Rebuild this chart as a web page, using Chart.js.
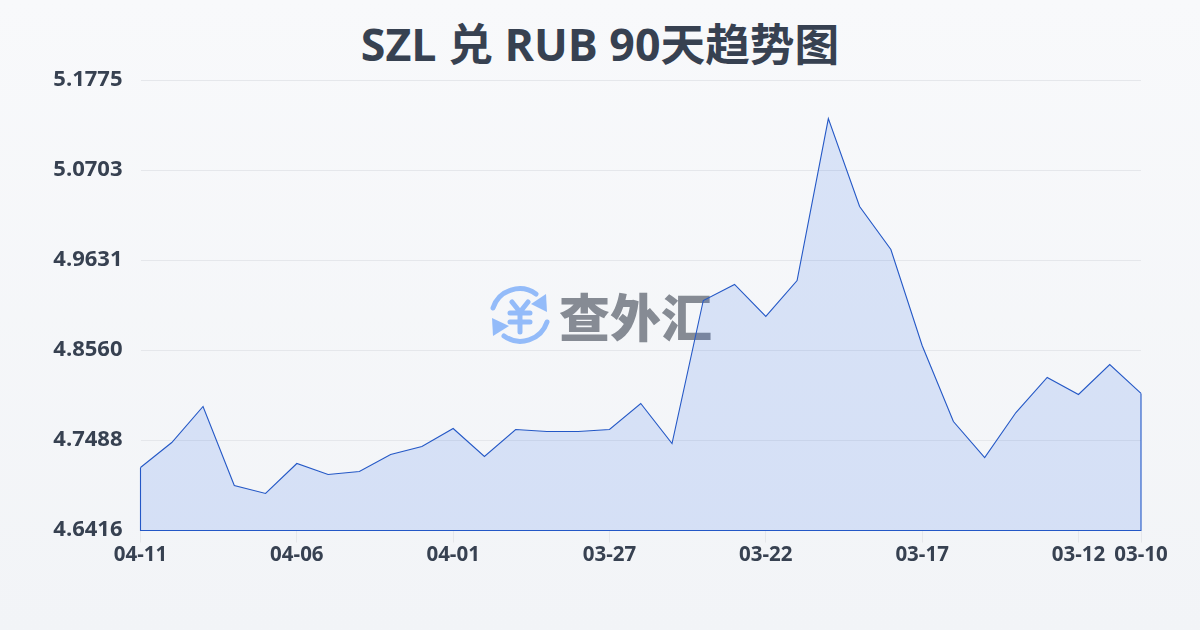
<!DOCTYPE html>
<html lang="zh"><head><meta charset="utf-8">
<script src="https://cdn.jsdelivr.net/npm/chart.js@4/dist/chart.umd.min.js"></script>
<style>
html,body{margin:0;padding:0}
body{width:1200px;height:630px;overflow:hidden;position:relative;background:linear-gradient(180deg,#f8f9fb 0%,#f2f4f7 100%);font-family:"Open Sans","Noto Sans CJK SC",sans-serif}
#wm{position:absolute;left:488px;top:284px;width:64px;height:62px}
#wt{position:absolute;left:559px;top:276px;font:900 51px/78px "Noto Sans CJK SC",sans-serif;color:#868b94;white-space:nowrap}
#title{position:absolute;left:0;top:14px;width:1200px;text-align:center;font:700 44.7px/60px "Open Sans","Noto Sans CJK SC",sans-serif;color:#374151}
canvas{position:absolute;left:0;top:0}
</style></head><body>
<svg id="wm" viewBox="0 0 64 62" fill="none" stroke="#93bbf9" stroke-linecap="round" stroke-linejoin="round">
<path d="M5 24 A28 28 0 0 1 48 10" stroke-width="5"/>
<path d="M58 10 L59 28 L43 20 Z" fill="#93bbf9" stroke="none"/>
<path d="M59 38 A28 28 0 0 1 16 52" stroke-width="5"/>
<path d="M5 52 L4 34 L21 42 Z" fill="#93bbf9" stroke="none"/>
<path d="M24 18 L32 28 L40 18 M22 29 H42 M22 38 H42 M32 28 V48" stroke-width="5"/>
</svg>
<div id="wt">查外汇</div>
<div id="title">SZL 兑 RUB 90天趋势图</div>
<canvas id="c" width="1200" height="630"></canvas>
<script>
const dates=["04-11","04-10","04-09","04-08","04-07","04-06","04-05","04-04","04-03","04-02","04-01","03-31","03-30","03-29","03-28","03-27","03-26","03-25","03-24","03-23","03-22","03-21","03-20","03-19","03-18","03-17","03-16","03-15","03-14","03-13","03-12","03-11","03-10"];
const rates=[4.7166,4.7464,4.7893,4.6952,4.6857,4.7214,4.7083,4.7119,4.7321,4.7416,4.7631,4.7297,4.7619,4.7595,4.7595,4.7619,4.7928,4.7452,4.9155,4.9346,4.8965,4.9393,5.1322,5.0274,4.9762,4.8619,4.7714,4.7285,4.7821,4.8238,4.8036,4.8393,4.8048];
const yTicks=[4.6416,4.7488,4.8560,4.9631,5.0703,5.1775];
const xTickIndex=[0,5,10,15,20,25,30,32];
const last=dates.length-1, yMin=yTicks[0], yMax=yTicks[yTicks.length-1];
const ink="#374151", line="#2458c6", fam='"Open Sans",sans-serif';
new Chart(document.getElementById("c"),{
 type:"line",
 data:{datasets:[
  {data:rates.map((y,x)=>({x,y})),borderColor:line,borderWidth:1.1,backgroundColor:"rgba(37,99,235,0.14)",fill:"start",pointRadius:0,tension:0,clip:false},
  {data:[{x:0,y:rates[0]},{x:0,y:yMin},{x:last,y:yMin},{x:last,y:rates[last]}],borderColor:line,borderWidth:1.1,fill:false,pointRadius:0,tension:0,clip:false}
 ]},
 options:{responsive:false,animation:false,
  layout:{padding:{left:0,right:59,top:80.5,bottom:0}},
  plugins:{legend:{display:false},tooltip:{enabled:false},title:{display:false}},
  scales:{
   x:{type:"linear",min:0,max:last,
    afterBuildTicks(s){s.ticks=xTickIndex.map(value=>({value}));},
    afterFit(s){s.height=99.5;},
    border:{display:false},
    grid:{drawOnChartArea:false,drawTicks:true,tickLength:12,color:"#e5e7eb"},
    ticks:{autoSkip:false,maxRotation:0,minRotation:0,padding:0,color:ink,font:{family:fam,size:20.5,weight:"700"},callback:v=>dates[v]}},
   y:{type:"linear",min:yMin,max:yMax,
    afterBuildTicks(s){s.ticks=yTicks.map(value=>({value}));},
    afterFit(s){s.width=140.5;},
    border:{display:false},
    grid:{drawTicks:false,color:"#e5e7eb",lineWidth:1},
    ticks:{autoSkip:false,padding:18,color:ink,font:{family:fam,size:22,weight:"700",lineHeight:"2px"},callback:v=>[v.toFixed(4),""]}}
  }}
});
</script>
</body></html>
